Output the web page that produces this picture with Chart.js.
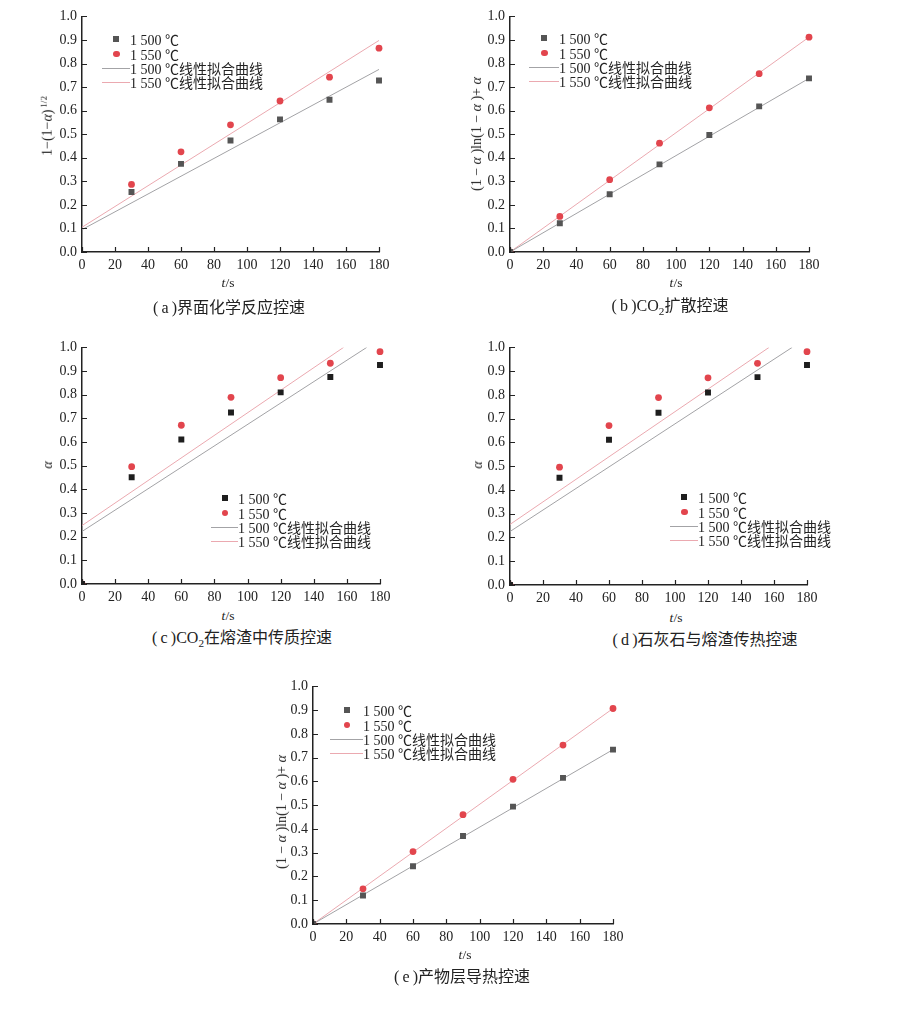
<!DOCTYPE html>
<html>
<head>
<meta charset="utf-8">
<script src="https://cdn.jsdelivr.net/npm/chart.js@4.4.1/dist/chart.umd.min.js"></script>
<style>
  body { margin: 0; width: 917px; height: 1024px; position: relative; overflow: hidden; background: #fff;
         font-family: "Liberation Serif", "Noto Sans CJK SC", serif; color: #222; }
  canvas { position: absolute; }
  .t { position: absolute; white-space: nowrap; line-height: 1; transform: translate(-50%, -50%); }
  .ytitle { font-size: 14px; transform: translate(-50%, -50%) rotate(-90deg); }
  .xtitle { font-size: 13.5px; }
  .cap { font-size: 16px; }
  .lg { position: absolute; font-size: 14px; white-space: nowrap; }
  .row { display: flex; align-items: center; height: 14.4px; }
  .sw { position: relative; display: inline-block; height: 100%; }
  .ln { position: absolute; left: 0; right: 0; top: 50%; height: 1px; }
  .sq, .dot { position: absolute; left: 50%; top: 50%; width: 6px; height: 6px; margin: -3px 0 0 -3px; }
  .dot { border-radius: 50%; width: 6.5px; height: 6.5px; }
  sub { font-size: 70%; }
  sup { font-size: 65%; vertical-align: 0.5em; }
</style>
</head>
<body>
<script>
// time axis (s) and tick labels
const times = [0, 30, 60, 90, 120, 150, 180];
const xTicks = [0, 20, 40, 60, 80, 100, 120, 140, 160, 180];
const yTicks = [0, 0.1, 0.2, 0.3, 0.4, 0.5, 0.6, 0.7, 0.8, 0.9, 1.0];
const seriesNames = ["1 500 ℃", "1 550 ℃", "1 500 ℃线性拟合曲线", "1 550 ℃线性拟合曲线"];

// (a) interface chemical reaction
const a1500 = [null, 0.255, 0.374, 0.473, 0.563, 0.646, 0.728];
const a1550 = [null, 0.287, 0.425, 0.540, 0.641, 0.742, 0.865];
const aFitT = [0, 180];
const aFit1500 = [0.095, 0.775];
const aFit1550 = [0.105, 0.898];

// (b) CO2 diffusion
const b1500 = [0, 0.122, 0.245, 0.372, 0.497, 0.618, 0.737];
const b1550 = [0, 0.151, 0.307, 0.462, 0.612, 0.757, 0.912];
const bFitT = [0, 180];
const bFit1500 = [0, 0.737];
const bFit1550 = [0, 0.912];

// (c) CO2 mass transfer in slag
const c1500 = [0, 0.451, 0.611, 0.725, 0.810, 0.875, 0.926];
const c1550 = [0, 0.496, 0.671, 0.789, 0.872, 0.933, 0.982];
const cFitT1500 = [0, 172];
const cFit1500 = [0.222, 1.0];
const cFitT1550 = [0, 158];
const cFit1550 = [0.247, 1.0];

// (d) limestone / slag heat transfer
const d1500 = [0, 0.451, 0.611, 0.725, 0.810, 0.875, 0.926];
const d1550 = [0, 0.496, 0.671, 0.789, 0.872, 0.933, 0.982];
const dFitT1500 = [0, 171];
const dFit1500 = [0.225, 1.0];
const dFitT1550 = [0, 157];
const dFit1550 = [0.255, 1.0];

// (e) product layer heat conduction
const e1500 = [0, 0.120, 0.243, 0.370, 0.494, 0.615, 0.734];
const e1550 = [0, 0.148, 0.305, 0.460, 0.609, 0.753, 0.907];
const eFitT = [0, 180];
const eFit1500 = [0, 0.734];
const eFit1550 = [0, 0.907];

const RED = "#e2454d";
const GRAY_LINE = "#a3a3a6";
const PINK_LINE = "#eba9b0";

const YT_KIN = "1−(1−<i>α</i>)<sup>&thinsp;1/2</sup>";
const YT_DIFF = "(1 − <i>α</i> )ln(1 − <i>α</i> )+ <i>α</i>";

const panels = [
  { rect: [82, 13, 379, 252], sq: "#555", s1500: a1500, s1550: a1550,
    f1500: [aFitT, aFit1500], f1550: [aFitT, aFit1550],
    ytitle: YT_KIN, yt: [47, 126], xt: [228, 283],
    cap: "(&thinsp;a&thinsp;)界面化学反应控速", cp: [229, 308], lg: { x: 102, y: 32, w: 28 } },
  { rect: [510, 13, 809, 252], sq: "#555", s1500: b1500, s1550: b1550,
    f1500: [bFitT, bFit1500], f1550: [bFitT, bFit1550],
    ytitle: YT_DIFF, yt: [477, 134], xt: [676, 283],
    cap: "(&thinsp;b&thinsp;)CO<sub>2</sub>扩散控速", cp: [670, 308], lg: { x: 529, y: 31, w: 30 } },
  { rect: [82, 344, 380, 584], sq: "#1e1e1e", s1500: c1500, s1550: c1550,
    f1500: [cFitT1500, cFit1500], f1550: [cFitT1550, cFit1550],
    ytitle: "<i>α</i>", yt: [48, 465], xt: [228, 616],
    cap: "(&thinsp;c&thinsp;)CO<sub>2</sub>在熔渣中传质控速", cp: [242, 640], lg: { x: 211, y: 491, w: 27 } },
  { rect: [510, 344, 807, 585], sq: "#1e1e1e", s1500: d1500, s1550: d1550,
    f1500: [dFitT1500, dFit1500], f1550: [dFitT1550, dFit1550],
    ytitle: "<i>α</i>", yt: [478, 465], xt: [676, 618],
    cap: "(&thinsp;d&thinsp;)石灰石与熔渣传热控速", cp: [705, 640], lg: { x: 670, y: 490, w: 28 } },
  { rect: [313, 683, 613, 924], sq: "#555", s1500: e1500, s1550: e1550,
    f1500: [eFitT, eFit1500], f1550: [eFitT, eFit1550],
    ytitle: YT_DIFF, yt: [282, 812], xt: [465, 955],
    cap: "(&thinsp;e&thinsp;)产物层导热控速", cp: [462, 977], lg: { x: 330, y: 703, w: 33 } }
];

// inward tick marks on both axes
const innerTicks = {
  id: "innerTicks",
  afterDraw(chart) {
    const { ctx, chartArea, scales } = chart;
    ctx.save();
    ctx.strokeStyle = "#222";
    ctx.lineWidth = 1.2;
    ctx.beginPath();
    xTicks.forEach(v => {
      const px = Math.round(scales.x.getPixelForValue(v)) + 0.5;
      ctx.moveTo(px, chartArea.bottom);
      ctx.lineTo(px, chartArea.bottom - 5);
    });
    yTicks.forEach(v => {
      const py = Math.round(scales.y.getPixelForValue(v)) + 0.5;
      ctx.moveTo(chartArea.left, py);
      ctx.lineTo(chartArea.left + 5, py);
    });
    ctx.stroke();
    ctx.restore();
  }
};

function pts(xs, ys) {
  return xs.map((x, i) => ({ x: x, y: ys[i] })).filter(p => p.y !== null);
}

function addText(cls, html, pos) {
  const el = document.createElement("div");
  el.className = "t " + cls;
  el.innerHTML = html;
  el.style.left = pos[0] + "px";
  el.style.top = pos[1] + "px";
  document.body.appendChild(el);
}

function addLegend(chart, lg) {
  const box = document.createElement("div");
  box.className = "lg";
  box.style.left = lg.x + "px";
  box.style.top = lg.y + "px";
  chart.data.datasets.forEach(ds => {
    const row = document.createElement("div");
    row.className = "row";
    const sw = document.createElement("span");
    sw.className = "sw";
    sw.style.width = lg.w + "px";
    const mk = document.createElement("span");
    if (ds.showLine) {
      mk.className = "ln";
      mk.style.background = ds.borderColor;
    } else {
      mk.className = ds.pointStyle === "rect" ? "sq" : "dot";
      mk.style.background = ds.backgroundColor;
    }
    sw.appendChild(mk);
    const tx = document.createElement("span");
    tx.textContent = ds.label;
    row.appendChild(sw);
    row.appendChild(tx);
    box.appendChild(row);
  });
  document.body.appendChild(box);
}

const tickFont = { family: "Liberation Serif", size: 14 };
const PAD_L = 44, PAD_T = 10, PAD_R = 16, PAD_B = 24;
// let markers at the right/top edge show fully, cut them at the axes
const markerClip = { left: 0, top: 8, right: 8, bottom: 0 };

panels.forEach(p => {
  const [l, t, r, b] = p.rect;
  const cv = document.createElement("canvas");
  const w = r - l + PAD_L + PAD_R, h = b - t + PAD_T + PAD_B;
  cv.width = w; cv.height = h;
  cv.style.left = (l - PAD_L) + "px";
  cv.style.top = (t - PAD_T) + "px";
  cv.style.width = w + "px";
  cv.style.height = h + "px";
  document.body.appendChild(cv);

  const chart = new Chart(cv.getContext("2d"), {
    type: "scatter",
    data: {
      datasets: [
        { label: seriesNames[0], data: pts(times, p.s1500), pointStyle: "rect", pointRadius: 4.2,
          backgroundColor: p.sq, borderColor: p.sq, borderWidth: 0, clip: markerClip },
        { label: seriesNames[1], data: pts(times, p.s1550), pointStyle: "circle", pointRadius: 3.4,
          backgroundColor: RED, borderColor: RED, borderWidth: 0, clip: markerClip },
        { label: seriesNames[2], data: pts(p.f1500[0], p.f1500[1]), showLine: true, pointRadius: 0,
          borderColor: GRAY_LINE, borderWidth: 1 },
        { label: seriesNames[3], data: pts(p.f1550[0], p.f1550[1]), showLine: true, pointRadius: 0,
          borderColor: PINK_LINE, borderWidth: 1 }
      ]
    },
    options: {
      responsive: false,
      animation: false,
      devicePixelRatio: 1,
      layout: { padding: { left: 0, top: PAD_T, right: PAD_R, bottom: 0 } },
      plugins: { legend: { display: false }, tooltip: { enabled: false } },
      scales: {
        x: {
          type: "linear", min: 0, max: 180,
          afterBuildTicks: s => { s.ticks = xTicks.map(v => ({ value: v })); },
          afterFit: s => { s.height = PAD_B; },
          grid: { display: false, drawTicks: false },
          border: { display: true, color: "#222", width: 1.5 },
          ticks: { color: "#222", font: tickFont, padding: 5, autoSkip: false, maxRotation: 0 }
        },
        y: {
          type: "linear", min: 0, max: 1,
          afterBuildTicks: s => { s.ticks = yTicks.map(v => ({ value: v })); },
          afterFit: s => { s.width = PAD_L; },
          grid: { display: false, drawTicks: false },
          border: { display: true, color: "#222", width: 1.5 },
          ticks: { color: "#222", font: tickFont, padding: 5, autoSkip: false,
                   callback: v => Number(v).toFixed(1) }
        }
      }
    },
    plugins: [innerTicks]
  });

  addLegend(chart, p.lg);
  addText("ytitle", p.ytitle, p.yt);
  addText("xtitle", "<i>t</i>/s", p.xt);
  addText("cap", p.cap, p.cp);
});
</script>
</body>
</html>
